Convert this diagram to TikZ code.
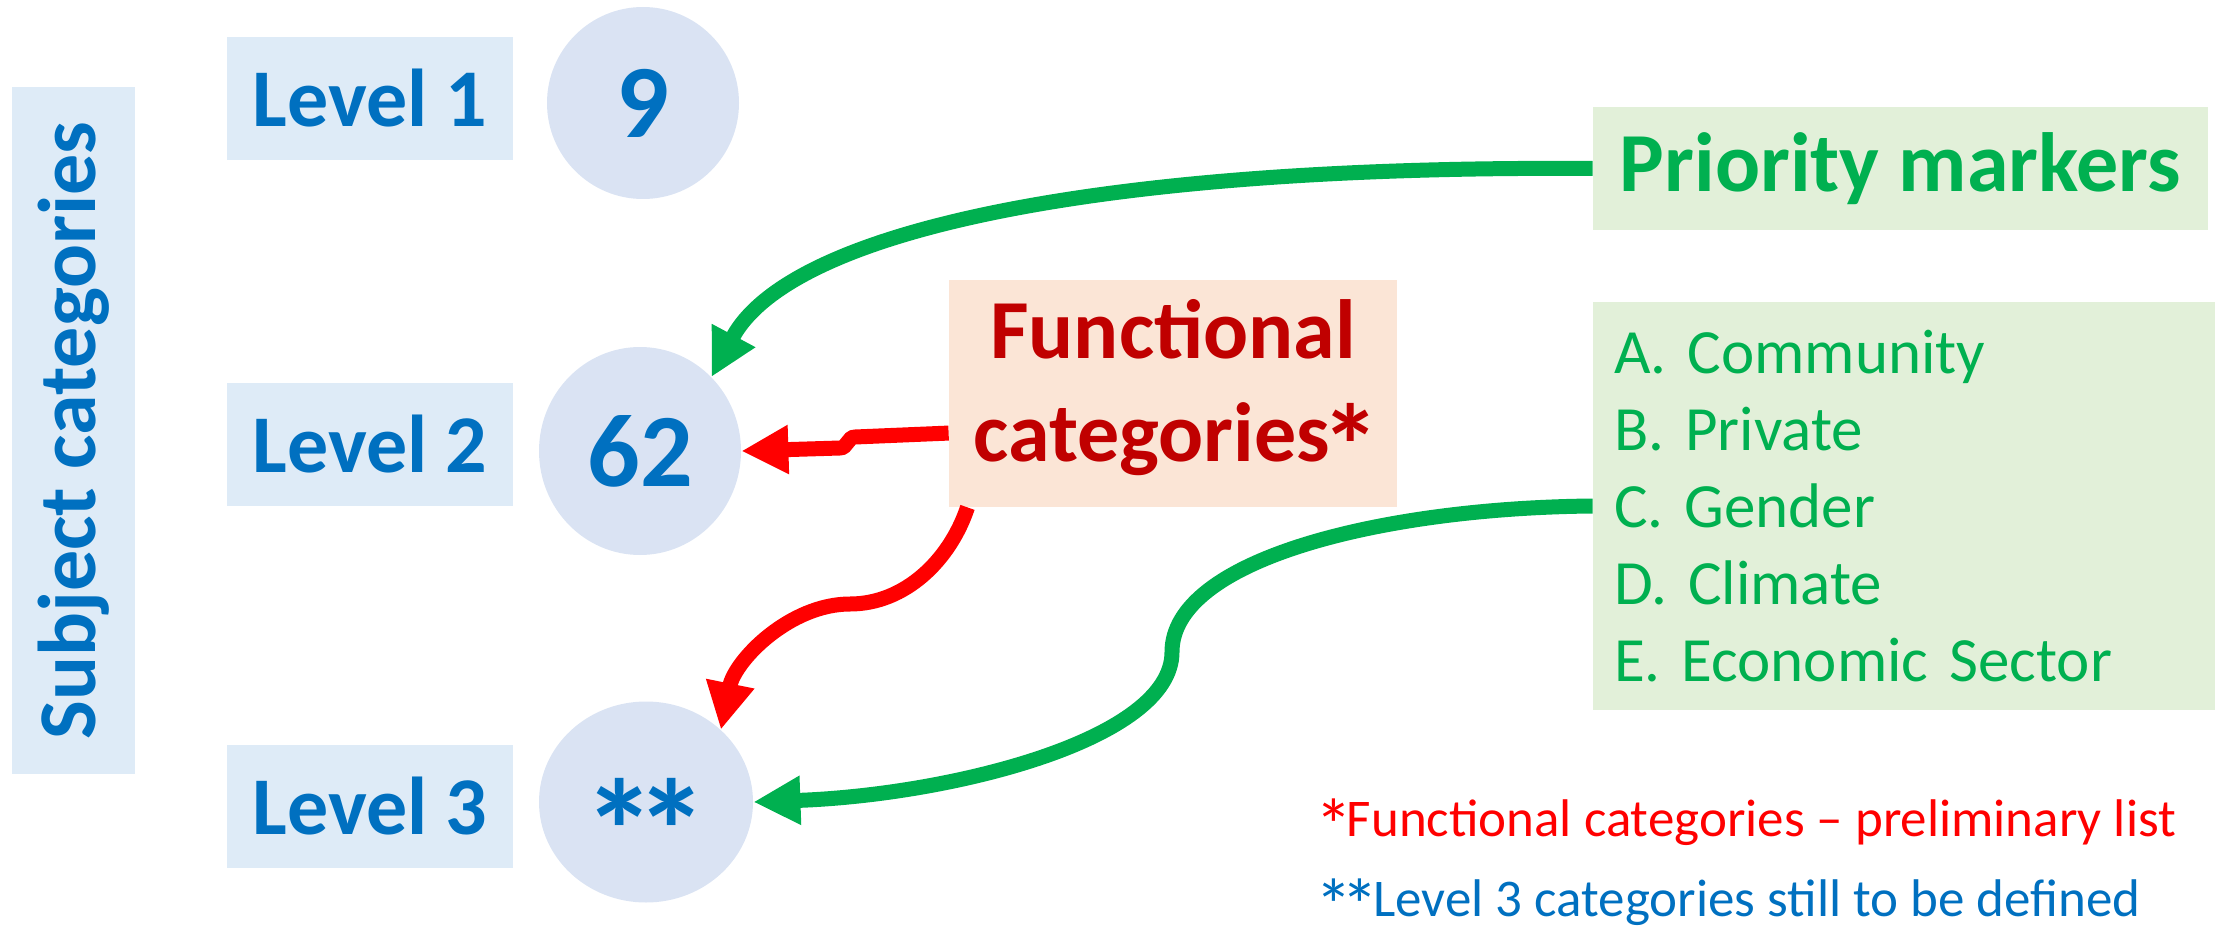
\documentclass[tikz,border=0pt]{standalone}
\usepackage{fontspec,graphicx}
\setmainfont{Carlito}
\usetikzlibrary{arrows.meta,shapes.geometric}
\definecolor{lvlblue}{HTML}{0070C0}
\definecolor{lvlfill}{HTML}{DEEBF7}
\definecolor{cntfill}{HTML}{DAE3F3}
\definecolor{mkgreen}{HTML}{00B050}
\definecolor{mkfill}{HTML}{E2F0D9}
\definecolor{fcred}{HTML}{C00000}
\definecolor{fcfill}{HTML}{FBE5D6}
\definecolor{lnred}{HTML}{FF0000}
\newcommand\bigast{\makebox[.5em]{\raisebox{-.3em}{\scalebox{1.4}{*}}}}
\frenchspacing

\begin{document}
\begin{tikzpicture}[x=.5pt,y=-.5pt,
  lvl/.style={fill=lvlfill,text=lvlblue,inner sep=0pt,minimum width=143pt,
    minimum height=61.5pt,font=\fontsize{41}{49}\selectfont\bfseries},
  cnt/.style={ellipse,fill=cntfill,text=lvlblue,inner sep=0pt,
    font=\fontsize{52}{62}\selectfont\bfseries},
  link/.style={line width=7.5pt,-{Triangle[length=23.5pt,width=23pt]}},
  note/.style={anchor=base west,inner sep=0pt,font=\fontsize{26.5}{32}\selectfont}]
\useasboundingbox (0,0) rectangle (2226,936);
\node[lvl,rotate=90,minimum width=343.5pt] (subj) at (73.5,430.5) {Subject categories};
\node[lvl] (lvl1) at (370,98.5) {Level 1};
\node[lvl] (lvl2) at (370,444.5) {Level 2};
\node[lvl] (lvl3) at (370,806) {Level 3};
\node[cnt,minimum width=96pt,minimum height=96pt] (c9) at (643,103) {9};
\node[cnt,minimum width=101pt,minimum height=104pt] (c62) at (640,451) {62};
\node[cnt,minimum width=107pt,minimum height=100.5pt] (cst) at (646,802)
  {\raisebox{-.47em}[0pt][0pt]{\bigast\bigast}};
\node[fill=fcfill,text=fcred,align=center,inner sep=0pt,minimum width=224pt,
  minimum height=113.5pt,font=\fontsize{42}{51.5}\selectfont\bfseries]
  (fc) at (1173,393.5) {Functional\\categories\bigast};
\node[fill=mkfill,text=mkgreen,inner sep=0pt,minimum width=307.5pt,
  minimum height=61.5pt,font=\fontsize{42}{50}\selectfont\bfseries]
  (pm) at (1900.5,168.5) {Priority markers};
\node[fill=mkfill,text=mkgreen,align=left,text width=290pt,inner xsep=10.5pt,
  inner ysep=0pt,minimum height=204pt,font=\fontsize{31.5}{38.5}\selectfont]
  (mk) at (1904,506) {A. Community\\B. Private\\C. Gender\\D. Climate\\E. Economic Sector};
\node[note,text=lnred] (fn1) at (1320,836) {\bigast Functional categories – preliminary list};
\node[note,text=lvlblue] (fn2) at (1320,916) {\bigast\bigast Level 3 categories still to be defined};
\draw[link,mkgreen] (pm.west) .. controls (1100,165) and (790,230) .. (c62.46);
\draw[link,lnred] (fc.190) -- (855,437) to[out=180,in=0] (840,448) -- (c62.east);
\draw[link,lnred] (fc.209) .. controls (950,560) and (905,604) .. (850,604)
  .. controls (790,604) and (735,660) .. (cst.44);
\draw[link,mkgreen] (mk.west) .. controls (1380,508) and (1172,560) .. (1172,652)
  .. controls (1172,740) and (950,795) .. (cst.east);
\end{tikzpicture}
\end{document}
